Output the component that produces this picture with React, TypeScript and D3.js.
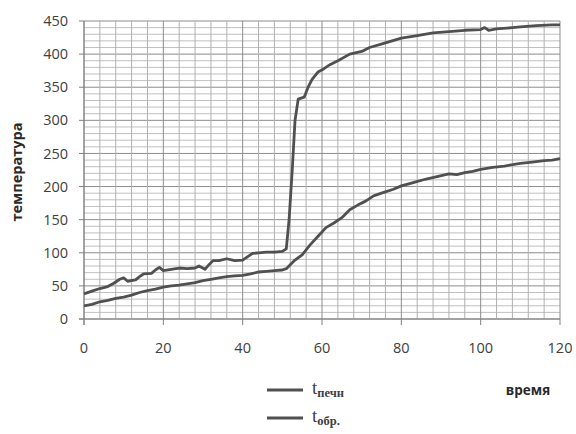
import React from 'react';
import * as d3 from 'd3';

// t печи (furnace temperature)
const furnaceTime = [0, 2, 4, 6, 7.5, 9, 10, 11, 13, 14, 15, 17, 18, 19, 20, 22, 24, 26, 28, 29, 30.5, 31.5, 32.5, 34, 36, 38, 40, 41, 42.5, 44, 46, 48, 50, 51, 51.7, 52.5, 53.2, 54, 55.5, 56.5, 57.5, 59, 60.5, 62, 64, 67, 70, 72, 76, 80, 84, 88, 92, 96, 100, 101, 102, 104, 108, 110, 114, 118, 120];
const furnaceTemp = [38, 42, 46, 49, 54, 60, 62, 57, 59, 64, 68, 69, 74, 78, 73, 75, 77, 76, 77, 80, 75, 82, 88, 88, 91, 88, 89, 93, 99, 100, 101, 101, 102, 106, 150, 225, 300, 332, 335, 350, 362, 373, 378, 384, 390, 400, 404, 410, 417, 424, 428, 432, 434, 436, 437, 440, 436, 438, 440, 441, 443, 444, 444];

// t обр. (sample temperature)
const sampleTime = [0, 2, 4, 6, 8, 10, 12, 14, 16, 18, 20, 22, 24, 26, 28, 30, 32, 34, 36, 38, 40, 42, 44, 46, 48, 50, 51, 52, 53, 55, 57, 59, 61, 63, 65, 67, 69, 71, 73, 75, 78, 80, 83, 86, 89, 92, 94, 96, 98, 100, 103, 106, 110, 113, 116, 118, 120];
const sampleTemp = [20, 22, 26, 28, 31, 33, 36, 40, 43, 45, 48, 50, 51, 53, 55, 58, 60, 62, 64, 65, 66, 68, 71, 72, 73, 74, 76, 82, 88, 97, 112, 125, 138, 145, 153, 165, 172, 178, 186, 190, 196, 201, 206, 211, 215, 219, 218, 221, 223, 226, 229, 231, 235, 237, 239, 240, 242];

const xTicks = [0, 20, 40, 60, 80, 100, 120];
const yTicks = [0, 50, 100, 150, 200, 250, 300, 350, 400, 450];

const W = 576;
const H = 434;
const left = 84;
const right = 560;
const top = 21;
const bottom = 319;

const x = d3.scaleLinear().domain([0, 120]).range([left, right]);
const y = d3.scaleLinear().domain([0, 450]).range([bottom, top]);

const lineColor = '#505050';
const tickFont = '"Open Sans", sans-serif';

const App = () => {
  const furnace = furnaceTime.map((t, i) => [t, furnaceTemp[i]] as [number, number]);
  const sample = sampleTime.map((t, i) => [t, sampleTemp[i]] as [number, number]);
  const line = d3.line<[number, number]>().x(d => x(d[0])).y(d => y(d[1]));

  const xMinor = d3.range(0, 121, 4);
  const yMinor = d3.range(0, 451, 10);

  return (
    <svg width={W} height={H} style={{ position: 'absolute', left: 0, top: 0, background: '#fff' }}>
      {/* grid */}
      {yMinor.map(v => (
        <line key={'ym' + v} x1={left} x2={right} y1={y(v)} y2={y(v)}
          stroke={v % 50 === 0 ? '#8c8c8c' : '#c0c0c0'} strokeWidth={1} />
      ))}
      {xMinor.map(v => (
        <line key={'xm' + v} x1={x(v)} x2={x(v)} y1={top} y2={bottom}
          stroke={v % 20 === 0 ? '#8c8c8c' : '#b0b0b0'} strokeWidth={1} />
      ))}
      {/* axes */}
      <line x1={left} x2={left} y1={top} y2={bottom + 6} stroke="#808080" />
      <line x1={left - 5} x2={right} y1={bottom} y2={bottom} stroke="#808080" />
      {yTicks.map(v => (
        <g key={'yt' + v}>
          <line x1={left - 5} x2={left} y1={y(v)} y2={y(v)} stroke="#808080" />
          <text x={68} y={y(v)} dy="0.35em" textAnchor="end" fontFamily={tickFont} fontSize={14.5} fill="#404040">{v}</text>
        </g>
      ))}
      {xTicks.map(v => (
        <g key={'xt' + v}>
          <line x1={x(v)} x2={x(v)} y1={bottom} y2={bottom + 6} stroke="#808080" />
          <text x={x(v)} y={348} dy="0.35em" textAnchor="middle" fontFamily={tickFont} fontSize={14.5} fill="#404040">{v}</text>
        </g>
      ))}
      {/* series */}
      <path d={line(furnace) ?? ''} fill="none" stroke={lineColor} strokeWidth={2.8} strokeLinejoin="round" />
      <path d={line(sample) ?? ''} fill="none" stroke={lineColor} strokeWidth={2.8} strokeLinejoin="round" />
      {/* axis titles */}
      <text transform="translate(22,172) rotate(-90)" textAnchor="middle" fontFamily={tickFont} fontWeight="bold" fontSize={14.5} fill="#2a2a2a">температура</text>
      <text x={528} y={390} dy="0.35em" textAnchor="middle" fontFamily={tickFont} fontWeight="bold" fontSize={13.5} fill="#2a2a2a">время</text>
      {/* legend */}
      <line x1={267} x2={303} y1={390} y2={390} stroke={lineColor} strokeWidth={2.8} />
      <text x={312} y={394} fontFamily='"Liberation Serif", serif' fontSize={19} fill="#404040">
        t<tspan dy={3} fontSize={12.5} fontWeight="bold">печн</tspan>
      </text>
      <line x1={267} x2={303} y1={418} y2={418} stroke={lineColor} strokeWidth={2.8} />
      <text x={312} y={422} fontFamily='"Liberation Serif", serif' fontSize={19} fill="#404040">
        t<tspan dy={3} fontSize={12.5} fontWeight="bold">обр.</tspan>
      </text>
    </svg>
  );
};

export default App;
